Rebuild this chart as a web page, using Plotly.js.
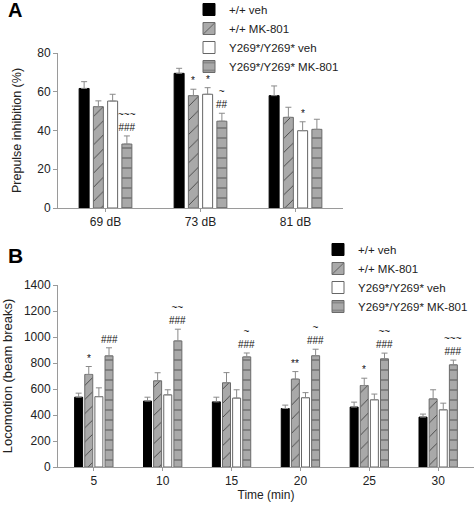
<!DOCTYPE html>
<html>
<head>
<meta charset="utf-8">
<script src="https://cdn.plot.ly/plotly-3.0.1.min.js"></script>
<style>html,body{margin:0;padding:0;background:#fff;}#chart{width:474px;height:506px;}</style>
</head>
<body>
<div id="chart"></div>
<script>
// ---------- data ----------
const seriesNames = ['+/+ veh', '+/+ MK-801', 'Y269*/Y269* veh', 'Y269*/Y269* MK-801'];

// Panel A: prepulse inhibition (%)
const catsA = ['69 dB', '73 dB', '81 dB'];
const wtVehA = [61.7, 69.5, 58.0];
const wtVehAErr = [3.5, 2.6, 5.0];
const wtMkA = [52.3, 58.0, 46.8];
const wtMkAErr = [3.0, 3.3, 5.2];
const homVehA = [55.2, 58.7, 39.9];
const homVehAErr = [3.5, 3.4, 4.6];
const homMkA = [33.0, 44.8, 40.6];
const homMkAErr = [4.2, 4.1, 5.2];

// Panel B: locomotion (beam breaks)
const catsB = ['5', '10', '15', '20', '25', '30'];
const wtVehB = [537, 507, 501, 450, 461, 384];
const wtVehBErr = [31, 30, 36, 26, 38, 23];
const wtMkB = [712, 663, 648, 676, 627, 524];
const wtMkBErr = [61, 62, 78, 58, 56, 70];
const homVehB = [541, 555, 530, 533, 517, 440];
const homVehBErr = [68, 39, 64, 39, 44, 51];
const homMkB = [855, 970, 847, 856, 832, 786];
const homMkBErr = [62, 90, 30, 50, 44, 36];

// significance marks: [category index, series index, label]
const sigA = [[0, 3, '~~~<br>###'], [1, 1, '*'], [1, 2, '*'], [1, 3, '~<br>##'], [2, 2, '*']];
const sigB = [[0, 1, '*'], [0, 3, '###'], [1, 3, '~~<br>###'], [2, 3, '~<br>###'], [3, 1, '**'],
              [3, 3, '~<br>###'], [4, 1, '*'], [4, 3, '~~<br>###'], [5, 3, '~~~<br>###']];

// ---------- styles ----------
const FONT = 'Liberation Sans, Arial, Helvetica, sans-serif';
const GREY = '#a9a9a9';
const styles = [
  {color: '#000000', line: {color: '#000000', width: 1}},
  {color: GREY, line: {color: '#6a6a6a', width: 1}, pattern: {shape: '/', bgcolor: GREY, fgcolor: '#333333', size: 10, solidity: 0.08}},
  {color: '#ffffff', line: {color: '#666666', width: 1}},
  {color: GREY, line: {color: '#6a6a6a', width: 1}, pattern: {shape: '-', bgcolor: GREY, fgcolor: '#555555', size: 10, solidity: 0.1}}
];

const valsA = [wtVehA, wtMkA, homVehA, homMkA];
const errsA = [wtVehAErr, wtMkAErr, homVehAErr, homMkAErr];
const valsB = [wtVehB, wtMkB, homVehB, homMkB];
const errsB = [wtVehBErr, wtMkBErr, homVehBErr, homMkBErr];

const stepA = 0.15, widthA = 0.105;
const stepB = 0.147, widthB = 0.116;

const traces = [];
function addPanel(cats, vals, errs, xa, ya, legend, step, width) {
  vals.forEach((v, i) => {
    const s = styles[i];
    const marker = {color: s.color, line: s.line};
    if (s.pattern) marker.pattern = s.pattern;
    traces.push({
      type: 'bar', x: cats, y: v, name: seriesNames[i],
      xaxis: xa, yaxis: ya, legend: legend,
      width: width, offset: (i - 1.5) * step - width / 2,
      marker: marker,
      error_y: {type: 'data', symmetric: false, array: errs[i], arrayminus: v.map(() => 0),
                color: '#8a8a8a', thickness: 1, width: 3},
      hoverinfo: 'x+y+name'
    });
  });
}
addPanel(catsA, valsA, errsA, 'x', 'y', 'legend', stepA, widthA);
addPanel(catsB, valsB, errsB, 'x2', 'y2', 'legend2', stepB, widthB);

const annotations = [];
function addSig(sig, vals, errs, xref, yref, step) {
  sig.forEach(([c, s, txt]) => {
    annotations.push({
      xref: xref, yref: yref, x: c + (s - 1.5) * step, y: vals[s][c] + errs[s][c],
      text: txt, showarrow: false, yanchor: 'bottom', xanchor: 'center', yshift: 1,
      font: {family: FONT, size: 10, color: '#111'}
    });
  });
}
addSig(sigA, valsA, errsA, 'x', 'y', stepA);
addSig(sigB, valsB, errsB, 'x2', 'y2', stepB);

annotations.push({xref: 'paper', yref: 'paper', x: (6 - 58) / 416, y: (467 - 10) / 414, xanchor: 'left', yanchor: 'middle',
  text: '<b>A</b>', showarrow: false, font: {family: FONT, size: 20, color: '#000'}});
annotations.push({xref: 'paper', yref: 'paper', x: (6 - 58) / 416, y: (467 - 256) / 414, xanchor: 'left', yanchor: 'middle',
  text: '<b>B</b>', showarrow: false, font: {family: FONT, size: 21, color: '#000'}});

const axisCommon = {
  showline: true, linecolor: '#9a9a9a', linewidth: 1, ticks: 'outside', tickcolor: '#9a9a9a',
  showgrid: false, zeroline: false, tickfont: {family: FONT, size: 12, color: '#222'}, automargin: false
};

const layout = {
  width: 474, height: 506,
  margin: {l: 58, r: 0, t: 53, b: 39, autoexpand: false},
  paper_bgcolor: '#ffffff', plot_bgcolor: '#ffffff',
  font: {family: FONT, size: 12, color: '#222'},
  barmode: 'group',
  showlegend: true,
  xaxis: Object.assign({}, axisCommon, {domain: [0, 285 / 416], anchor: 'y', type: 'category', range: [-0.5, 2.5], ticklen: 3}),
  yaxis: Object.assign({}, axisCommon, {domain: [(467 - 208) / 414, 1], anchor: 'x', range: [0, 80], dtick: 20, ticklen: 4,
    title: {text: 'Prepulse inhibition (%)', font: {family: FONT, size: 12.5, color: '#222'}, standoff: 12}}),
  xaxis2: Object.assign({}, axisCommon, {domain: [0, 1], anchor: 'y2', type: 'category', range: [-0.52, 5.52], ticklen: 3,
    title: {text: 'Time (min)', font: {family: FONT, size: 12, color: '#222'}, standoff: 3}}),
  yaxis2: Object.assign({}, axisCommon, {domain: [0, (467 - 285) / 414], anchor: 'x2', range: [0, 1400], dtick: 200, ticklen: 4,
    title: {text: 'Locomotion (beam breaks)', font: {family: FONT, size: 13, color: '#222'}, standoff: 8}}),
  legend: {xref: 'paper', yref: 'paper', x: (189 - 58) / 416, y: (467 + 5) / 414, xanchor: 'left', yanchor: 'top',
    font: {family: FONT, size: 11.5, color: '#222'}, bgcolor: 'rgba(0,0,0,0)', tracegroupgap: 0},
  legend2: {xref: 'paper', yref: 'paper', x: (318 - 58) / 416, y: (467 - 235) / 414, xanchor: 'left', yanchor: 'top',
    font: {family: FONT, size: 11.5, color: '#222'}, bgcolor: 'rgba(0,0,0,0)', tracegroupgap: 0},
  annotations: annotations
};

Plotly.newPlot('chart', traces, layout, {displayModeBar: false, staticPlot: true});
</script>
</body>
</html>
